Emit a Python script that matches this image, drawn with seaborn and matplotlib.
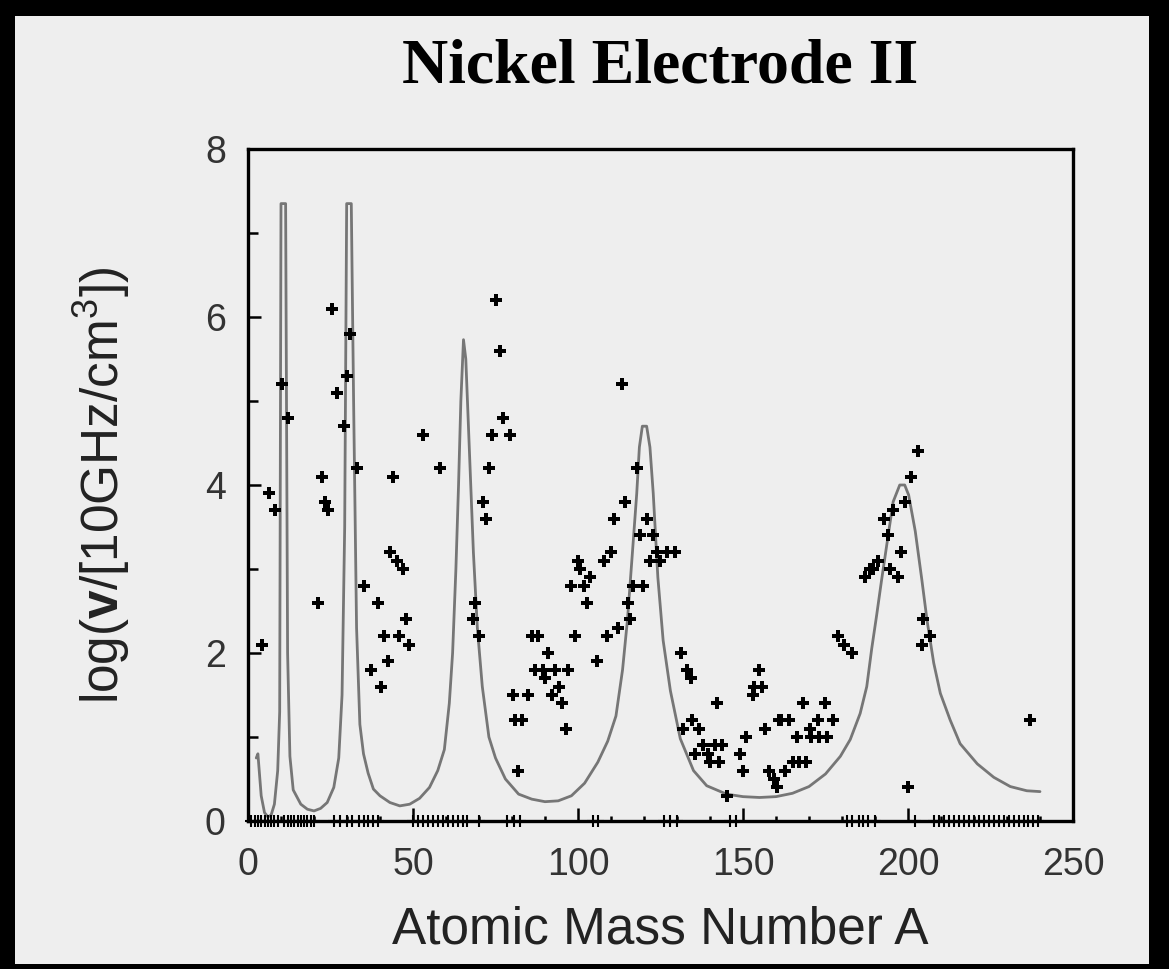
import matplotlib
matplotlib.use("Agg")
import matplotlib.pyplot as plt
import seaborn as sns
from matplotlib.patches import Rectangle
from matplotlib.ticker import MultipleLocator

# model curve (A, log nu)
curve_a = [2.5, 3.0, 3.5, 4.0, 5.0, 6.0, 7.0, 8.0, 9.0, 9.6, 10.0, 11.4, 12.0, 12.7, 13.7,
           16.0, 18.0, 20.0, 22.0, 24.0, 26.0, 27.5, 28.5, 29.3, 29.9, 31.3, 32.0, 32.9, 33.9,
           35.0, 36.4, 38.0, 40.0, 43.0, 46.0, 49.0, 52.0, 55.0, 57.5, 59.5, 61.0, 62.0, 63.0,
           63.8, 64.5, 65.3, 66.0, 66.8, 67.5, 68.3, 69.5, 71.0, 73.0, 75.0, 78.0, 82.0, 86.0,
           90.0, 94.0, 98.0, 102.0, 106.0, 109.0, 111.5, 113.5, 115.0, 116.5, 117.8, 118.6,
           119.5, 120.8, 121.8, 122.8, 124.2, 125.8, 128.0, 131.0, 135.0, 139.0, 145.0, 150.0,
           155.0, 160.0, 165.0, 170.0, 175.0, 179.5, 182.5, 185.5, 187.5, 189.0, 190.5, 192.0,
           193.5, 195.5, 197.5, 199.0, 200.2, 202.2, 204.2, 205.8, 207.8, 209.8, 212.8, 215.8,
           221.0, 226.0, 231.0, 236.0, 240.0]
curve_v = [0.75, 0.8, 0.55, 0.3, 0.1, 0.05, 0.07, 0.2, 0.6, 1.3, 7.35, 7.35, 2.0, 0.77, 0.37,
           0.2, 0.14, 0.12, 0.15, 0.22, 0.4, 0.75, 1.5, 3.5, 7.35, 7.35, 5.0, 2.3, 1.15,
           0.8, 0.57, 0.38, 0.3, 0.22, 0.18, 0.2, 0.27, 0.4, 0.6, 0.85, 1.4, 2.0, 3.0,
           4.0, 5.0, 5.73, 5.5, 4.7, 4.0, 3.2, 2.3, 1.6, 1.0, 0.75, 0.5, 0.32, 0.26,
           0.23, 0.24, 0.3, 0.45, 0.7, 0.95, 1.25, 1.8, 2.4, 3.2, 3.9, 4.45,
           4.7, 4.7, 4.45, 3.9, 2.9, 2.15, 1.55, 0.98, 0.6, 0.42, 0.32, 0.29,
           0.28, 0.29, 0.33, 0.41, 0.56, 0.77, 0.97, 1.28, 1.6, 2.05, 2.45, 2.87,
           3.27, 3.8, 4.0, 4.0, 3.88, 3.45, 2.87, 2.38, 1.88, 1.52, 1.2, 0.92,
           0.68, 0.52, 0.41, 0.36, 0.35]

# measured points
pts_a = [10.2, 12.2, 25.4, 30.9, 29.9, 27.1, 29.2, 32.9, 22.3, 6.5, 44.0, 52.9, 58.2, 75.2,
         76.4, 77.4, 74.0, 79.4, 73.1, 8.2, 23.3, 24.3, 21.3, 4.1, 43.0, 45.0, 46.9, 35.2,
         39.3, 47.8, 41.2, 45.9, 48.8, 42.3, 37.3, 40.3, 71.1, 72.1, 68.8, 68.3, 69.9, 80.2,
         80.9, 82.9, 81.7,
         114.2, 110.9, 120.8, 118.8, 122.8, 110.0, 123.9, 127.0, 129.5, 99.9, 108.0, 121.8,
         124.8, 100.6, 103.6, 97.9, 101.9, 116.8, 119.8, 102.8, 115.2, 115.7, 112.2, 108.7,
         99.1, 86.0, 88.0, 91.0, 105.9, 87.0, 89.5, 93.0, 97.1, 90.0, 94.3, 84.9, 92.0, 95.0,
         96.4, 113.2, 117.8,
         131.1, 132.9, 134.1, 142.0, 134.4, 136.7, 131.9, 138.0, 141.5, 143.5, 135.5, 139.5,
         140.0, 142.6, 145.1, 149.2, 150.0, 150.9, 154.8, 153.2, 155.8, 153.0, 156.8, 160.8,
         157.8, 159.3, 160.3,
         199.1, 195.5, 192.8, 194.0, 197.9, 191.0, 189.5, 188.5, 194.5, 187.0, 197.1, 204.6,
         206.7, 204.2, 178.9, 180.6, 182.9, 200.0, 236.9, 161.5, 164.0, 168.3, 174.9, 166.3,
         170.3, 172.8, 177.4, 170.5, 173.0, 175.5, 162.7, 165.0, 167.0, 169.0, 203.1, 201.0]
pts_v = [5.2, 4.8, 6.1, 5.8, 5.3, 5.1, 4.7, 4.2, 4.1, 3.9, 4.1, 4.6, 4.2, 6.2,
         5.6, 4.8, 4.6, 4.6, 4.2, 3.7, 3.8, 3.7, 2.6, 2.1, 3.2, 3.1, 3.0, 2.8,
         2.6, 2.4, 2.2, 2.2, 2.1, 1.9, 1.8, 1.6, 3.8, 3.6, 2.6, 2.4, 2.2, 1.5,
         1.2, 1.2, 0.6,
         3.8, 3.6, 3.6, 3.4, 3.4, 3.2, 3.2, 3.2, 3.2, 3.1, 3.1, 3.1,
         3.1, 3.0, 2.9, 2.8, 2.8, 2.8, 2.8, 2.6, 2.6, 2.4, 2.3, 2.2,
         2.2, 2.2, 2.2, 2.0, 1.9, 1.8, 1.8, 1.8, 1.8, 1.7, 1.6, 1.5, 1.5, 1.4,
         1.1, 5.2, 4.2,
         2.0, 1.8, 1.7, 1.4, 1.2, 1.1, 1.1, 0.9, 0.9, 0.9, 0.8, 0.8,
         0.7, 0.7, 0.3, 0.8, 0.6, 1.0, 1.8, 1.6, 1.6, 1.5, 1.1, 1.2,
         0.6, 0.5, 0.4,
         3.8, 3.7, 3.6, 3.4, 3.2, 3.1, 3.0, 3.0, 3.0, 2.9, 2.9, 2.4,
         2.2, 2.1, 2.2, 2.1, 2.0, 0.4, 1.2, 1.2, 1.2, 1.4, 1.4, 1.0,
         1.1, 1.2, 1.2, 1.0, 1.0, 1.0, 0.6, 0.7, 0.7, 0.7, 4.4, 4.1]

# points sitting on the axis (log nu ~ 0)
rug_a = [1, 2, 3, 4, 5, 6, 7, 8, 9, 11, 12, 13, 14, 15, 16, 17, 18, 19, 20, 26, 28, 30, 31.5,
         33.5, 35, 36.5, 38, 39.5, 50, 51.5, 53, 54.5, 56, 57.5, 59, 60.5, 62, 63.5, 65, 66.5,
         70, 78.5, 80.5, 82.5, 104.5, 106, 126, 128, 130, 146, 148, 181.5, 183, 185, 186.5,
         188, 190, 202, 208, 209.5, 211, 212.5, 214, 215.5, 217, 218.5, 220, 221.5, 223,
         224.5, 226, 227.5, 229, 230.5, 232, 233.5, 235, 236.5, 238, 239.5]
rug_v = [0.0] * len(rug_a)

x_ticks = [0, 50, 100, 150, 200, 250]
y_ticks = [0, 2, 4, 6, 8]

sns.set_theme(style="ticks")
plt.rcParams["font.family"] = ["Liberation Sans", "DejaVu Sans"]
plt.rcParams["mathtext.fontset"] = "custom"
plt.rcParams["mathtext.rm"] = "Liberation Sans"
plt.rcParams["mathtext.bf"] = "Liberation Sans:bold"
plt.rcParams["mathtext.it"] = "Liberation Sans:italic"

W, H = 1169, 969
fig = plt.figure(figsize=(W / 100, H / 100), dpi=100, facecolor="black")
# light panel inside the black frame
fig.patches.append(Rectangle((15 / W, 5 / H), (W - 35) / W, (H - 21) / H,
                             transform=fig.transFigure, facecolor="#eeeeee",
                             edgecolor="none", zorder=-5))
ax = fig.add_axes([248 / W, 148 / H, 825 / W, 672 / H])
ax.set_facecolor("#eeeeee")

sns.lineplot(x=curve_a, y=curve_v, ax=ax, color="#767676", linewidth=2.0,
             estimator=None, sort=False, zorder=2)
sns.scatterplot(x=pts_a, y=pts_v, ax=ax, marker="P", s=68, color="black",
                linewidth=0, zorder=3)
sns.scatterplot(x=rug_a, y=rug_v, ax=ax, marker="+", s=75, color="black",
                linewidth=1.5, clip_on=False, zorder=4)

ax.set_xlim(0, 250)
ax.set_ylim(0, 8)
ax.set_xticks(x_ticks)
ax.set_yticks(y_ticks)
ax.xaxis.set_minor_locator(MultipleLocator(10))
ax.yaxis.set_minor_locator(MultipleLocator(1))
for s in ax.spines.values():
    s.set_color("black")
    s.set_linewidth(2.4)

ax.tick_params(which="both", direction="in", top=False, right=False, width=1.8,
               color="black", labelcolor="#333333", labelsize=27)
ax.tick_params(axis="x", which="major", length=9.5, pad=19)
ax.tick_params(axis="x", which="minor", length=3.5)
ax.tick_params(axis="y", which="major", length=9.5, pad=16)
ax.tick_params(axis="y", which="minor", length=7)

ax.set_xlabel("Atomic Mass Number A", fontsize=37, color="#222222", labelpad=16)
ax.set_ylabel(r"log($\mathbf{v}$/[10GHz/cm$^3$])", fontsize=37, color="#222222")
ax.yaxis.set_label_coords(-0.14, 0.5)
ax.set_title("Nickel Electrode II", fontsize=46, fontweight="bold",
             family=["Liberation Serif", "DejaVu Serif"], pad=48, color="black")

fig.savefig("out.png", dpi=100, facecolor=fig.get_facecolor())
